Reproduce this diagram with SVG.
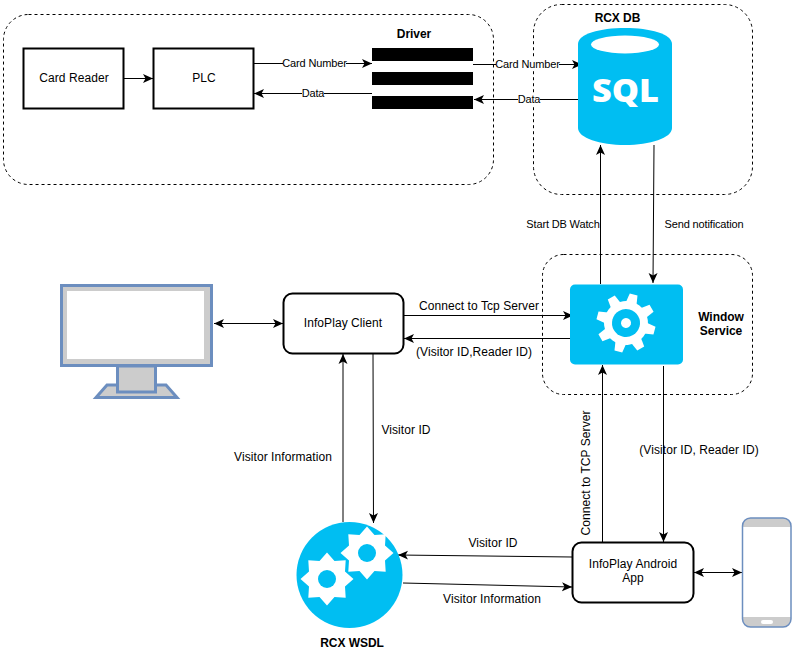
<svg xmlns="http://www.w3.org/2000/svg" xmlns:xlink="http://www.w3.org/1999/xlink" width="799" height="654" viewBox="0 0 799 654">
<style>
text{font-family:"Liberation Sans",Arial,sans-serif;font-size:12px;fill:#000;text-anchor:middle;letter-spacing:.07px}
.s{font-size:11px;letter-spacing:-.15px}
.b{font-weight:bold;letter-spacing:-.05px}
.dash{fill:none;stroke:#000;stroke-width:1;stroke-dasharray:3 3}
.box{fill:#fff;stroke:#000;stroke-width:2}
.bar{fill:#000}
.blue{fill:#00bef2}
.white{fill:#fff}
.line{fill:none;stroke:#000;stroke-width:1}
.dev{stroke:#6c8ebf;stroke-width:3;fill:#ccc}
</style>
<defs>
<marker id="a" markerUnits="userSpaceOnUse" markerWidth="10" markerHeight="10" refX="10" refY="5" orient="auto"><path d="M0 .5L2.500 5L0 9.500L10 5Z" fill="#000"/></marker>
<marker id="as" markerUnits="userSpaceOnUse" markerWidth="10" markerHeight="10" refX="0" refY="5" orient="auto"><path d="M10 .5L7.500 5L10 9.500L0 5Z" fill="#000"/></marker>
<path id="tooth" d="M-5.500 -20L-4 -29.500L4 -29.500L5.500 -20Z" fill="#fff"/>
<polygon id="star" points="26.500,0 18,7.500 18.700,18.700 7.500,18 0,26.500 -7.500,18 -18.700,18.700 -18,7.500 -26.500,0 -18,-7.500 -18.700,-18.700 -7.500,-18 0,-26.500 7.500,-18 18.700,-18.700 18,-7.500" fill="#fff"/>
</defs>

<rect x="3.500" y="14.500" width="490" height="170" rx="25" class="dash"/>
<rect x="533.500" y="4.500" width="219" height="190" rx="28" class="dash"/>
<rect x="542.500" y="254.500" width="210" height="140" rx="21" class="dash"/>

<g id="connectors">
<path class="line" marker-end="url(#a)" d="M124 78.500H153"/>
<path class="line" marker-end="url(#a)" d="M254 63.500H372"/>
<path class="line" marker-end="url(#a)" d="M372 93.500H254"/>
<path class="line" marker-end="url(#a)" d="M473 64.500H582"/>
<path class="line" marker-end="url(#a)" d="M582 99.500H474"/>
<path class="line" marker-end="url(#a)" d="M600.500 284V145"/>
<path class="line" marker-end="url(#a)" d="M654 145L653 283"/>
<path class="line" marker-end="url(#a)" marker-start="url(#as)" d="M214 323.500H283"/>
<path class="line" marker-end="url(#a)" d="M403 315.500H573"/>
<path class="line" marker-end="url(#a)" d="M573 338.500H404"/>
<path class="line" marker-end="url(#a)" d="M343 522V354"/>
<path class="line" marker-end="url(#a)" d="M373 353L373.500 523"/>
<path class="line" marker-end="url(#a)" d="M572 557L398 555"/>
<path class="line" marker-end="url(#a)" d="M403 583L572 587"/>
<path class="line" marker-end="url(#a)" d="M602.500 542V365"/>
<path class="line" marker-end="url(#a)" d="M663.500 366V542"/>
<path class="line" marker-end="url(#a)" marker-start="url(#as)" d="M694 572.500H742"/>
</g>

<g id="card-reader"><rect x="23.500" y="48.500" width="100" height="60" class="box"/><text x="74" y="82">Card Reader</text></g>
<g id="plc"><rect x="153.500" y="48.500" width="100" height="60" class="box"/><text x="204" y="82">PLC</text></g>
<g id="driver">
<rect x="372" y="48" width="101" height="13" class="bar"/>
<rect x="372" y="72" width="101" height="13" class="bar"/>
<rect x="372" y="96" width="101" height="13" class="bar"/>
<text x="414" y="38" class="b">Driver</text>
</g>
<g id="edge-labels">
<rect x="283" y="57" width="63" height="13" class="white"/>
<text x="314.500" y="67" class="s">Card Number</text>
<rect x="302" y="87" width="22" height="13" class="white"/>
<text x="313" y="97" class="s">Data</text>
<rect x="496" y="58" width="63" height="13" class="white"/>
<text x="527.500" y="68" class="s">Card Number</text>
<rect x="518" y="93" width="22" height="13" class="white"/>
<text x="529" y="103" class="s">Data</text>
<text x="563" y="228" class="s">Start DB Watch</text>
<text x="704" y="228" class="s">Send notification</text>
<text x="479" y="310">Connect to Tcp Server</text>
<text x="474" y="356">(Visitor ID,Reader ID)</text>
<text x="406" y="434">Visitor ID</text>
<text x="283" y="461">Visitor Information</text>
<text x="699" y="454">(Visitor ID, Reader ID)</text>
<text transform="translate(590 473) rotate(-90)">Connect to TCP Server</text>
<text x="493" y="547">Visitor ID</text>
<text x="492" y="603">Visitor Information</text>
</g>
<g id="rcx-db">
<path class="blue" d="M578 44C578 34 600 28 625 28C650 28 672 34 672 44V128C672 138 650 145 625 145C600 145 578 138 578 128Z"/>
<ellipse cx="625" cy="44.500" rx="34" ry="9" class="white"/>
<text x="625.500" y="102" style="font-family:'Open Sans','Liberation Sans',sans-serif;font-weight:800;font-size:31px;fill:#fff;letter-spacing:0" textLength="67" lengthAdjust="spacingAndGlyphs">SQL</text>
<text x="617.500" y="22" class="b">RCX DB</text>
</g>
<g id="window-service">
<rect x="570" y="284.500" width="113" height="80" rx="5" class="blue"/>
<g transform="translate(626 323) rotate(15)">
<circle r="22" class="white"/>
<use xlink:href="#tooth" href="#tooth"/>
<use xlink:href="#tooth" href="#tooth" transform="rotate(45)"/>
<use xlink:href="#tooth" href="#tooth" transform="rotate(90)"/>
<use xlink:href="#tooth" href="#tooth" transform="rotate(135)"/>
<use xlink:href="#tooth" href="#tooth" transform="rotate(180)"/>
<use xlink:href="#tooth" href="#tooth" transform="rotate(225)"/>
<use xlink:href="#tooth" href="#tooth" transform="rotate(270)"/>
<use xlink:href="#tooth" href="#tooth" transform="rotate(315)"/>
<circle r="14" class="blue"/>
<circle r="5" class="white"/>
</g>
<text x="721" y="321" class="b">Window</text>
<text x="721" y="335" class="b">Service</text>
</g>
<g id="monitor">
<rect x="61.500" y="285.500" width="150" height="80" class="dev"/>
<rect x="67" y="291" width="137" height="68" class="white"/>
<path class="dev" d="M107 385H166L177 397.500H96Z"/>
<rect x="117.500" y="366" width="38" height="26" class="dev"/>
</g>
<g id="infoplay-client"><rect x="283.500" y="293.500" width="120" height="60" rx="9" class="box"/><text x="343" y="327">InfoPlay Client</text></g>
<g id="rcx-wsdl">
<circle cx="349.500" cy="575" r="53" class="blue"/>
<use xlink:href="#star" href="#star" x="327" y="579"/>
<circle cx="327" cy="579" r="9" class="blue"/>
<use xlink:href="#star" href="#star" x="367" y="553"/>
<circle cx="367" cy="553" r="9" class="blue"/>
<text x="352" y="646.500" class="b">RCX WSDL</text>
</g>
<g id="android-app"><rect x="572.500" y="542.500" width="121" height="60" rx="9" class="box"/><text x="633" y="568">InfoPlay Android</text><text x="633" y="582">App</text></g>
<g id="phone">
<rect x="742.500" y="518" width="48.500" height="109" rx="8" fill="#ccc"/>
<rect x="743" y="527" width="48" height="90" class="white"/>
<rect x="761" y="620" width="12" height="4" rx="2" class="white"/>
<rect x="742.500" y="518" width="48.500" height="109" rx="8" fill="none" stroke="#6c8ebf" stroke-width="1.500"/>
</g>
</svg>
